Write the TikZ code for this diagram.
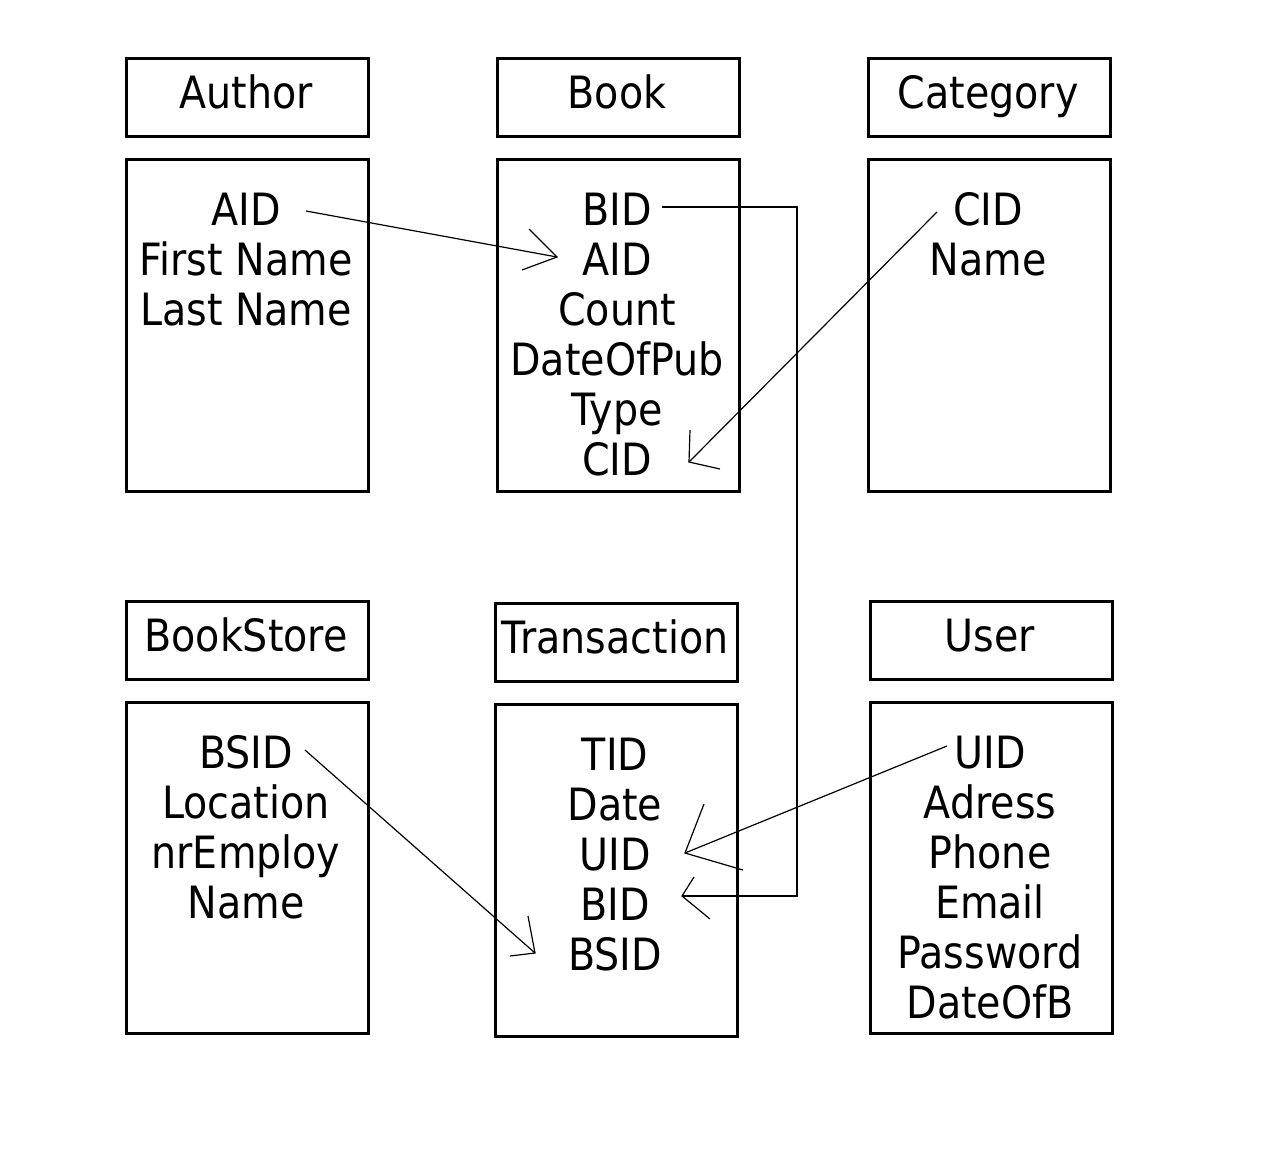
\documentclass[tikz,border=0pt]{standalone}
\usepackage{fontspec}
\setmainfont{DejaVu Sans}[FakeStretch=0.89]
\begin{document}
\begin{tikzpicture}[x=1pt,y=-1pt,
  box/.style={draw, line width=3pt, anchor=north west, inner sep=0pt, minimum width=242pt},
  hdr/.style={box, minimum height=78pt},
  bdy/.style={box, minimum height=332pt},
  lbl/.style={anchor=base, inner sep=0pt, font=\fontsize{44.5}{50}\selectfont},
  conn/.style={line width=1.2pt, line join=miter}]
\fill[white] (0,0) rectangle (1286,1151);
\useasboundingbox (0,0) rectangle (1286,1151);
% boxes
\node[hdr] (authorH) at (125,57) {};
\node[bdy] (authorB) at (125,158) {};
\node[hdr] (bookH) at (496,57) {};
\node[bdy] (bookB) at (496,158) {};
\node[hdr] (catH) at (867,57) {};
\node[bdy] (catB) at (867,158) {};
\node[hdr] (storeH) at (125,600) {};
\node[bdy, minimum height=331pt] (storeB) at (125,701) {};
\node[hdr] (transH) at (494,602) {};
\node[bdy] (transB) at (494,703) {};
\node[hdr] (userH) at (869,600) {};
\node[bdy, minimum height=331pt] (userB) at (869,701) {};
% headers
\node[lbl] (authorT) at (246,108) {Author};
\node[lbl] (bookT) at (617,108) {Book};
\node[lbl] (catT) at (988,108) {Category};
\node[lbl] (storeT) at (246,651) {BookStore};
\node[lbl] (transT) at (615,653) {Transaction};
\node[lbl] (userT) at (990,651) {User};
% Author
\node[lbl] (a1) at (246,225) {AID};
\node[lbl] (a2) at (246,275) {First Name};
\node[lbl] (a3) at (246,325) {Last Name};
% Book
\node[lbl] (b1) at (617,225) {BID};
\node[lbl] (b2) at (617,275) {AID};
\node[lbl] (b3) at (617,325) {Count};
\node[lbl] (b4) at (617,375) {DateOfPub};
\node[lbl] (b5) at (617,425) {Type};
\node[lbl] (b6) at (617,475) {CID};
% Category
\node[lbl] (c1) at (988,225) {CID};
\node[lbl] (c2) at (988,275) {Name};
% BookStore
\node[lbl] (s1) at (246,768) {BSID};
\node[lbl] (s2) at (246,818) {Location};
\node[lbl] (s3) at (246,868) {nrEmploy};
\node[lbl] (s4) at (246,918) {Name};
% Transaction
\node[lbl] (t1) at (615,770) {TID};
\node[lbl] (t2) at (615,820) {Date};
\node[lbl] (t3) at (615,870) {UID};
\node[lbl] (t4) at (615,920) {BID};
\node[lbl] (t5) at (615,970) {BSID};
% User
\node[lbl] (u1) at (990,768) {UID};
\node[lbl] (u2) at (990,818) {Adress};
\node[lbl] (u3) at (990,868) {Phone};
\node[lbl] (u4) at (990,918) {Email};
\node[lbl] (u5) at (990,968) {Password};
\node[lbl] (u6) at (990,1018) {DateOfB};
% connector end points
\coordinate (aidOut) at (306,211);
\coordinate (aidIn) at (557,257);
\coordinate (bidOut) at (662,207);
\coordinate (bidBend1) at (797,207);
\coordinate (bidBend2) at (797,896);
\coordinate (bidIn) at (682,896);
\coordinate (cidOut) at (937,212);
\coordinate (cidIn) at (689,462);
\coordinate (uidOut) at (947,746);
\coordinate (uidIn) at (685,853);
\coordinate (bsidOut) at (305,750);
\coordinate (bsidIn) at (535,953);
% connectors
\draw[conn] (aidOut) -- (aidIn);
\draw[conn] (aidIn) ++(-28,-28) -- (aidIn) -- ++(-35,13);
\draw[conn] (bidOut) -- (bidBend1) -- (bidBend2) -- (bidIn);
\draw[conn] (bidIn) ++(12,-19) -- (bidIn) -- ++(28,23);
\draw[conn] (cidOut) -- (cidIn);
\draw[conn] (cidIn) ++(1,-32) -- (cidIn) -- ++(31,7);
\draw[conn] (uidOut) -- (uidIn);
\draw[conn] (uidIn) ++(19,-49) -- (uidIn) -- ++(58,17);
\draw[conn] (bsidOut) -- (bsidIn);
\draw[conn] (bsidIn) ++(-7,-37) -- (bsidIn) -- ++(-25,3);
\end{tikzpicture}
\end{document}
